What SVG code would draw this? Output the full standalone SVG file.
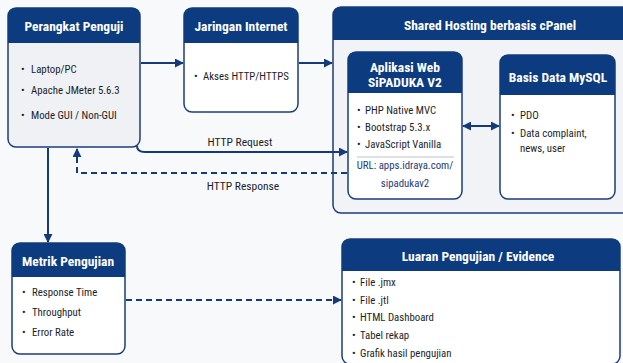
<svg xmlns="http://www.w3.org/2000/svg" width="623" height="363" viewBox="0 0 623 363">
<defs>
<marker id="ah" viewBox="0 0 10 10" refX="9" refY="5" markerWidth="9" markerHeight="9" markerUnits="userSpaceOnUse" orient="auto-start-reverse">
<path d="M0,0 L10,5 L0,10 z" fill="#143a7c"/>
</marker>
<style>
.box{stroke:#1d3d7a;stroke-width:1.5}
.hdr{fill:#0c3b80}
.t{font-family:"Liberation Sans Narrow","Roboto Condensed","Liberation Sans",Arial,sans-serif;font-weight:bold;font-size:13.5px;fill:#ffffff;text-anchor:middle}
.b{font-family:"Liberation Sans Narrow","Roboto Condensed","Liberation Sans",Arial,sans-serif;font-size:10.8px;fill:#1a1f2b}
.c{text-anchor:middle}
.lbl{font-family:"Liberation Sans Narrow","Roboto Condensed","Liberation Sans",Arial,sans-serif;font-size:11.5px;fill:#1a1f2b;text-anchor:middle}
.ln{fill:none;stroke:#143a7c;stroke-width:2}
.dash{stroke-dasharray:6 4}
</style>
</defs>
<rect width="623" height="363" fill="#f8f9fb"/>

<g id="shared-hosting">
<rect class="box" x="333" y="7" width="300" height="206" rx="8" fill="#f1f3f7"/>
<path class="hdr" d="M333,40 L333,15 Q333,7 341,7 L633,7 L633,40 Z"/>
<text class="t" x="490" y="30">Shared Hosting berbasis cPanel</text>
</g>

<g id="perangkat-penguji">
<rect class="box" x="8" y="8" width="132" height="139" rx="8" fill="#eff1f4"/>
<path class="hdr" d="M8,43 L8,16 Q8,8 16,8 L132,8 Q140,8 140,16 L140,43 Z"/>
<text class="t" x="74" y="31">Perangkat Penguji</text>
<text class="b" x="21" y="73">•</text><text class="b" x="31" y="73">Laptop/PC</text>
<text class="b" x="21" y="94">•</text><text class="b" x="31" y="94">Apache JMeter 5.6.3</text>
<text class="b" x="21" y="119">•</text><text class="b" x="31" y="119">Mode GUI / Non-GUI</text>
</g>

<g id="jaringan-internet">
<rect class="box" x="184" y="8" width="114" height="104" rx="8" fill="#ffffff"/>
<path class="hdr" d="M184,43 L184,16 Q184,8 192,8 L290,8 Q298,8 298,16 L298,43 Z"/>
<text class="t" x="241" y="31">Jaringan Internet</text>
<text class="b" x="194" y="80">•</text><text class="b" x="203" y="80">Akses HTTP/HTTPS</text>
</g>

<g id="aplikasi-web">
<rect class="box" x="348" y="52" width="114" height="147" rx="8" fill="#ffffff"/>
<path class="hdr" d="M348,93 L348,60 Q348,52 356,52 L454,52 Q462,52 462,60 L462,93 Z"/>
<text class="t" x="405" y="72">Aplikasi Web</text>
<text class="t" x="405" y="87">SiPADUKA V2</text>
<text class="b" x="357" y="114">•</text><text class="b" x="365" y="114">PHP Native MVC</text>
<text class="b" x="357" y="131">•</text><text class="b" x="365" y="131">Bootstrap 5.3.x</text>
<text class="b" x="357" y="148">•</text><text class="b" x="365" y="148">JavaScript Vanilla</text>
<line x1="357" y1="157" x2="454" y2="157" stroke="#b9c1cf" stroke-width="1"/>
<text class="b c" x="405" y="169" style="fill:#1d3d7a">URL: apps.idraya.com/</text>
<text class="b c" x="405" y="187" style="fill:#1d3d7a">sipadukav2</text>
</g>

<g id="basis-data">
<rect class="box" x="500" y="55" width="115" height="144" rx="8" fill="#ffffff"/>
<path class="hdr" d="M500,95 L500,63 Q500,55 508,55 L607,55 Q615,55 615,63 L615,95 Z"/>
<text class="t" x="558" y="82">Basis Data MySQL</text>
<text class="b" x="511" y="119">•</text><text class="b" x="520" y="119">PDO</text>
<text class="b" x="511" y="137">•</text><text class="b" x="520" y="137">Data complaint,</text>
<text class="b" x="520" y="152">news, user</text>
</g>

<g id="metrik-pengujian">
<rect class="box" x="12" y="243" width="113" height="111" rx="8" fill="#ffffff"/>
<path class="hdr" d="M12,277 L12,251 Q12,243 20,243 L117,243 Q125,243 125,251 L125,277 Z"/>
<text class="t" x="68" y="266">Metrik Pengujian</text>
<text class="b" x="22" y="296">•</text><text class="b" x="32" y="296">Response Time</text>
<text class="b" x="22" y="316">•</text><text class="b" x="32" y="316">Throughput</text>
<text class="b" x="22" y="336">•</text><text class="b" x="32" y="336">Error Rate</text>
</g>

<g id="luaran-pengujian">
<rect class="box" x="342" y="239" width="278" height="125" rx="8" fill="#ffffff"/>
<path class="hdr" d="M342,271 L342,247 Q342,239 350,239 L612,239 Q620,239 620,247 L620,271 Z"/>
<text class="t" x="478" y="261">Luaran Pengujian / Evidence</text>
<text class="b" x="352" y="286">•</text><text class="b" x="360" y="286">File .jmx</text>
<text class="b" x="352" y="304">•</text><text class="b" x="360" y="304">File .jtl</text>
<text class="b" x="352" y="321">•</text><text class="b" x="360" y="321">HTML Dashboard</text>
<text class="b" x="352" y="339">•</text><text class="b" x="360" y="339">Tabel rekap</text>
<text class="b" x="352" y="357">•</text><text class="b" x="360" y="357">Grafik hasil pengujian</text>
</g>

<g id="connectors">
<line class="ln" x1="141" y1="63" x2="183" y2="63" marker-end="url(#ah)"/>
<line class="ln" x1="299" y1="63" x2="332" y2="63" marker-end="url(#ah)"/>
<line class="ln" x1="463" y1="126" x2="499" y2="126" marker-start="url(#ah)" marker-end="url(#ah)"/>
<path class="ln" d="M137,146 Q137,152 145,152 L347,152" marker-end="url(#ah)"/>
<text class="lbl" x="240" y="146">HTTP Request</text>
<path class="ln dash" d="M347,173 L77,173 L77,149" marker-end="url(#ah)"/>
<text class="lbl" x="243" y="190">HTTP Response</text>
<line class="ln" x1="48" y1="148" x2="48" y2="242" marker-end="url(#ah)"/>
<line class="ln dash" x1="126" y1="300" x2="341" y2="300" marker-end="url(#ah)"/>
</g>
</svg>
